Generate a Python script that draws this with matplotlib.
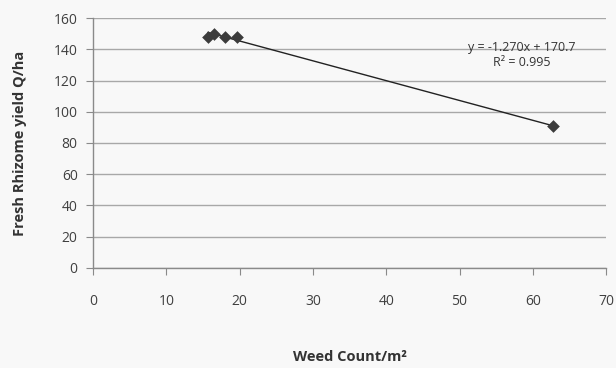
import matplotlib
matplotlib.use("Agg")
import matplotlib.pyplot as plt
import numpy as np

weed_count = [15.7, 16.5, 18.0, 19.7, 62.8]
rhizome_yield = [148, 150, 148, 148, 91]
slope = -1.270
intercept = 170.7
r_squared = 0.995
x_ticks = [0, 10, 20, 30, 40, 50, 60, 70]
y_ticks = [0, 20, 40, 60, 80, 100, 120, 140, 160]

plt.rcParams['font.family'] = ['Open Sans', 'DejaVu Sans']

fig = plt.figure(figsize=(6.16, 3.68), dpi=100)
fig.patch.set_facecolor('#f8f8f8')
ax = fig.add_axes([0.151, 0.272, 0.833, 0.679])
ax.set_facecolor('#f8f8f8')

ax.set_xlim(0, 70)
ax.set_ylim(0, 160)
ax.set_xticks(x_ticks)
ax.set_yticks(y_ticks)
ax.yaxis.grid(True, color='#a8a8a8', linewidth=1.0)
ax.set_axisbelow(True)
for s in ['top', 'right']:
    ax.spines[s].set_visible(False)
for s in ['left', 'bottom']:
    ax.spines[s].set_color('#8a8a8a')
    ax.spines[s].set_linewidth(1.0)
ax.tick_params(axis='both', colors='#8a8a8a', labelcolor='#404040', labelsize=10, length=5, direction='out')
ax.tick_params(axis='x', pad=14)
ax.tick_params(axis='y', pad=6)

xs = np.array([min(weed_count), max(weed_count)])
ax.plot(xs, slope * xs + intercept, color='#222222', linewidth=1.0, zorder=3)
ax.scatter(weed_count, rhizome_yield, marker='D', s=42, color='#3c3c3c', zorder=4, linewidths=0)

ax.text(0.835, 0.884, f"y = {slope:.3f}x + {intercept}", transform=ax.transAxes,
        ha='center', va='center', fontsize=9, color='#333333')
ax.text(0.835, 0.824, f"R² = {r_squared}", transform=ax.transAxes,
        ha='center', va='center', fontsize=9, color='#333333')

ax.set_xlabel("Weed Count/m²", fontsize=10.5, fontweight='bold', color='#333333')
ax.xaxis.set_label_coords(0.5, -0.33)
ax.set_ylabel("Fresh Rhizome yield Q/ha", fontsize=10.5, fontweight='bold', color='#333333')
ax.yaxis.set_label_coords(-0.128, 0.5)

fig.savefig("out.png", dpi=100, facecolor=fig.get_facecolor())
